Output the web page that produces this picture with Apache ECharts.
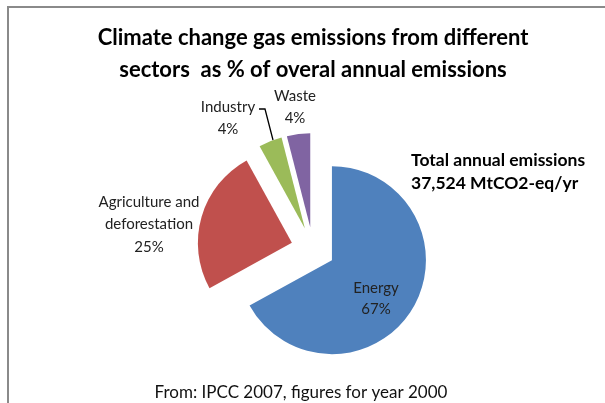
<!DOCTYPE html>
<html>
<head>
<meta charset="utf-8">
<script src="https://cdn.jsdelivr.net/npm/echarts@6/dist/echarts.min.js"></script>
<style>html,body{margin:0;padding:0;background:#fff}#c{width:605px;height:403px}</style>
</head>
<body>
<div id="c"></div>
<script>
// ---- data ----
const categories = ['Energy', 'Agriculture and\ndeforestation', 'Industry', 'Waste'];
const shares = [67, 25, 4, 4];
const titleLines = ['Climate change gas emissions from different', 'sectors  as % of overal annual emissions'];
const totalLines = ['Total annual emissions', '37,524 MtCO2-eq/yr'];
const footer = 'From: IPCC 2007, figures for year 2000';

// ---- styles ----
const colors = ['#4F81BD', '#C0504D', '#9BBB59', '#8064A2'];
const labelPos = [[376, 298.5], [149, 224.5], [228, 118], [295, 107]];
const labelLH = [21, 22.5, 22, 22];
const FONT = 'Lato, "Open Sans", sans-serif';

const chart = echarts.init(document.getElementById('c'), null, {renderer: 'canvas'});
const data = categories.map((n, i) => ({
  name: n, value: shares[i], selected: true,
  itemStyle: {color: colors[i]}
}));

const labelGraphics = categories.map((n, i) => ({
  type: 'text', x: labelPos[i][0], y: labelPos[i][1], z: 10,
  style: {
    text: n + '\n' + shares[i] + '%',
    font: '15px ' + FONT, lineHeight: labelLH[i], fill: '#222',
    textAlign: 'center', textVerticalAlign: 'middle'
  }
}));

chart.setOption({
  animation: false,
  graphic: [
    {type: 'line', shape: {x1: 7, y1: 7, x2: 605, y2: 7}, style: {stroke: '#8a8a8a', lineWidth: 2}},
    {type: 'line', shape: {x1: 8, y1: 6, x2: 8, y2: 403}, style: {stroke: '#8a8a8a', lineWidth: 2}},
    {type: 'text', x: 313, y: 54, style: {
      text: titleLines.join('\n'), font: 'bold 22px ' + FONT, lineHeight: 32, fill: '#000',
      textAlign: 'center', textVerticalAlign: 'middle'}},
    {type: 'text', x: 301, y: 393, style: {
      text: footer, font: '17px ' + FONT, fill: '#111',
      textAlign: 'center', textVerticalAlign: 'middle'}},
    {type: 'text', x: 411, y: 171.5, style: {
      text: totalLines.join('\n'), font: 'bold 17.5px ' + FONT, lineHeight: 23, fill: '#000',
      textAlign: 'left', textVerticalAlign: 'middle'}},
    {type: 'polyline', z: 10, shape: {points: [[259, 109], [265, 109], [273, 140]]},
      style: {stroke: '#000', lineWidth: 1.3, fill: null}}
  ].concat(labelGraphics),
  series: [{
    type: 'pie',
    center: [313, 249],
    radius: 94,
    startAngle: 90,
    clockwise: true,
    selectedMode: 'multiple',
    selectedOffset: 22,
    data: data,
    label: {show: false},
    labelLine: {show: false},
    emphasis: {disabled: true}
  }]
});
</script>
</body>
</html>
